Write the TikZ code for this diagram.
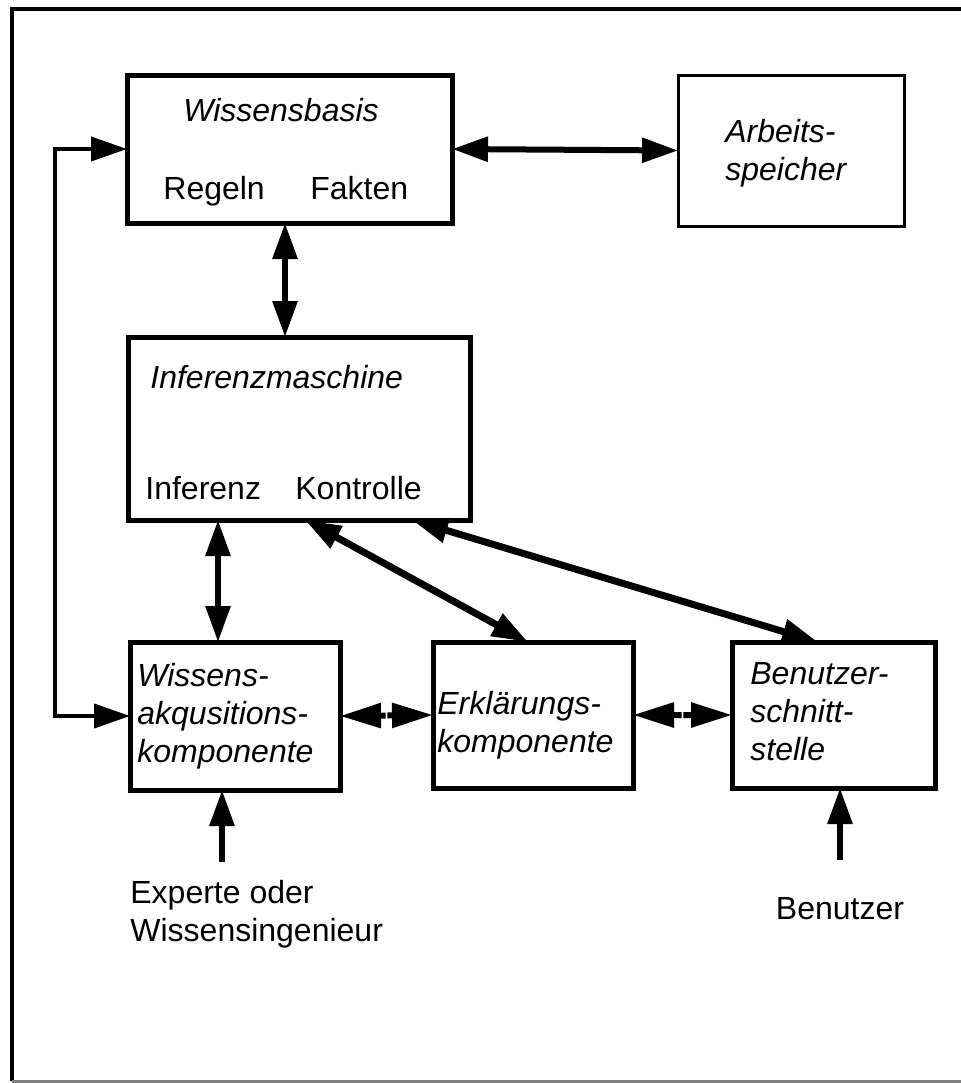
\documentclass[tikz,border=0pt]{standalone}
\usepackage{fontspec}
\setmainfont{Liberation Sans}
\usetikzlibrary{arrows.meta,calc}
\begin{document}
\begin{tikzpicture}[x=0.5pt,y=-0.5pt,
  box/.style={draw,line width=2.5pt,inner sep=0pt,outer sep=0pt},
  thinbox/.style={box,line width=1.5pt},
  lbl/.style={inner sep=0pt,font=\fontsize{16pt}{19pt}\selectfont},
  ttl/.style={lbl,font=\fontsize{16pt}{19pt}\selectfont\itshape},
  tip/.tip={Triangle[length=18pt,width=12pt]},
  longtip/.tip={Triangle[length=20.5pt,width=12pt]},
  one/.style={line width=3pt,-tip},
  short/.style={line width=3pt,-longtip},
  two/.style={line width=3pt,tip-tip},
  diag/.style={line width=3.5pt,tip-tip},
  back/.style={line width=2pt,tip-tip}]
\useasboundingbox (0,0) rectangle (961,1083);

% frame
\draw[line width=2pt] (961,9) coordinate (fr1) -- (12,9) coordinate (fr2) -- (12,1081) coordinate (fr3);
\draw[line width=1.5pt,gray] (fr3) -- (961,1081);

% boxes
\node[box,minimum width=162.5pt,minimum height=74pt] (wb) at (289.5,149) {};
\node[thinbox,minimum width=113pt,minimum height=75.5pt] (arb) at (791,150.5) {};
\node[box,minimum width=171pt,minimum height=91.5pt] (inf) at (299,428.5) {};
\node[box,minimum width=105pt,minimum height=74pt] (wak) at (235,716) {};
\node[box,minimum width=100pt,minimum height=73pt] (erk) at (533,715) {};
\node[box,minimum width=101.5pt,minimum height=73pt] (ben) at (833.5,715) {};

% texts inside the boxes (multi-line nodes are placed by their last baseline)
\node[ttl,anchor=base] (wbT) at (281,121) {Wissensbasis};
\node[lbl,anchor=base west] (wbR) at (163,199) {Regeln};
\node[lbl,anchor=base west] (wbF) at (310,199) {Fakten};
\node[ttl,anchor=base west,align=left] (arbT) at (725,180) {Arbeits-\\speicher};
\node[ttl,anchor=base west] (infT) at (150,388) {Inferenzmaschine};
\node[lbl,anchor=base west] (infI) at (145,499) {Inferenz};
\node[lbl,anchor=base west] (infK) at (295,499) {Kontrolle};
\node[ttl,anchor=base west,align=left] (wakT) at (137,762) {Wissens-\\akqusitions-\\komponente};
\node[ttl,anchor=base west,align=left] (erkT) at (437,752) {Erklärungs-\\komponente};
\node[ttl,anchor=base west,align=left] (benT) at (750,760) {Benutzer-\\schnitt-\\stelle};

% outside labels
\node[lbl,anchor=base west,align=left] (exp) at (130,941) {Experte oder\\Wissensingenieur};
\node[lbl,anchor=base] (usr) at (840,919) {Benutzer};
\coordinate (ex) at (222,862);
\coordinate (bu) at (840,860);
\coordinate (fb) at (55,400);

% connectors
\draw[two] (wb.east) -- (arb.west);
\draw[two] (wb.south -| 285,0) -- (inf.north -| 285,0);
\draw[back] (wb.west) -| (fb) |- (wak.west);
\draw[two] (inf.south -| 218,0) -- (wak.north -| 218,0);
\draw[diag] (inf.south -| 305,0) -- (erk.north -| 528,0);
\draw[diag] (inf.south -| 412,0) -- (ben.north -| 818,0);
\draw[short] ($(wak.east)!0.49!(erk.west)$) -- (wak.east);
\draw[short] ($(wak.east)!0.51!(erk.west)$) -- (erk.west);
\draw[short] ($(erk.east)!0.49!(ben.west)$) -- (erk.east);
\draw[short] ($(erk.east)!0.51!(ben.west)$) -- (ben.west);
\draw[one] (ex) -- (wak.south -| ex);
\draw[one] (bu) -- (ben.south -| bu);
\end{tikzpicture}
\end{document}
